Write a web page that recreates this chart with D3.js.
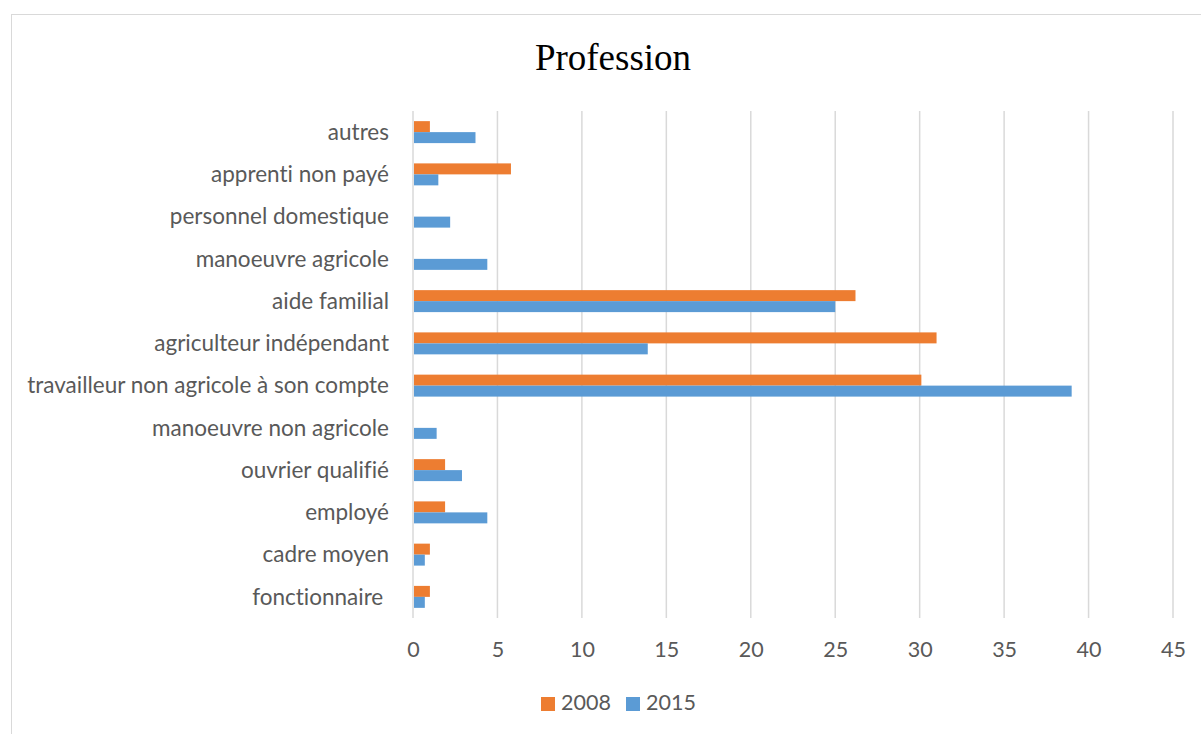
<!DOCTYPE html>
<html>
<head>
<meta charset="utf-8">
<script src="https://cdn.jsdelivr.net/npm/d3@7"></script>
<style>
  html, body { margin: 0; padding: 0; background: #fff; }
  svg { display: block; }
  svg text { font-variant-ligatures: none; font-feature-settings: "liga" 0, "clig" 0; }
</style>
</head>
<body>
<script>
// Profession breakdown, 2008 vs 2015 (percent)
const categories = [
  "autres",
  "apprenti non payé",
  "personnel domestique",
  "manoeuvre agricole",
  "aide familial",
  "agriculteur indépendant",
  "travailleur non agricole à son compte",
  "manoeuvre non agricole",
  "ouvrier qualifié",
  "employé",
  "cadre moyen",
  "fonctionnaire "
];
const values2008 = [1.0, 5.8, 0, 0, 26.2, 31.0, 30.1, 0, 1.9, 1.9, 1.0, 1.0];
const values2015 = [3.7, 1.5, 2.2, 4.4, 25.0, 13.9, 39.0, 1.4, 2.9, 4.4, 0.7, 0.7];
const seriesNames = ["2008", "2015"];
const seriesColors = ["#ed7d31", "#5b9bd5"];
const xTicks = [0, 5, 10, 15, 20, 25, 30, 35, 40, 45];

const W = 1201, H = 734;
const plot = { left: 413, right: 1173, top: 111, bottom: 618 };
const textColor = "#595959";
const sansFont = "Lato, 'Open Sans', sans-serif";
const labelSize = 22.5;

const svg = d3.select("body").append("svg")
  .attr("width", W).attr("height", H);

// chart frame
svg.append("rect")
  .attr("x", 11.5).attr("y", 14.5)
  .attr("width", 1220).attr("height", 760)
  .attr("fill", "none").attr("stroke", "#d9d9d9").attr("stroke-width", 1);

// title
svg.append("text")
  .attr("x", 613).attr("y", 70)
  .attr("text-anchor", "middle")
  .attr("font-family", "'Liberation Serif', 'Times New Roman', serif")
  .attr("font-size", 37)
  .attr("fill", "#000")
  .text("Profession");

const x = d3.scaleLinear().domain([0, 45]).range([plot.left, plot.right]);
const y = d3.scaleBand().domain(categories).range([plot.top, plot.bottom]).paddingInner(0.48).paddingOuter(0.24);
const ySub = d3.scaleBand().domain(seriesNames).range([0, y.bandwidth()]);

// vertical gridlines
svg.append("g")
  .selectAll("line")
  .data(xTicks)
  .join("line")
  .attr("x1", d => x(d)).attr("x2", d => x(d))
  .attr("y1", plot.top).attr("y2", plot.bottom)
  .attr("stroke", "#d9d9d9").attr("stroke-width", 1.5);

// x axis tick labels
const xAxis = d3.axisBottom(x).tickValues(xTicks).tickSize(0).tickPadding(0);
const gx = svg.append("g")
  .attr("transform", `translate(0,${plot.bottom + 39})`)
  .call(xAxis);
gx.select(".domain").remove();
gx.selectAll("text")
  .attr("dy", 0)
  .attr("font-family", sansFont).attr("font-size", 21.5)
  .attr("fill", textColor);

// category labels
const yAxis = d3.axisLeft(y).tickSize(0).tickPadding(24);
const gy = svg.append("g")
  .attr("transform", `translate(${plot.left},0)`)
  .call(yAxis);
gy.select(".domain").remove();
gy.selectAll("text")
  .attr("dy", "0.34em")
  .attr("font-family", sansFont).attr("font-size", labelSize)
  .attr("fill", textColor)
  .style("white-space", "pre");

// bars
const rows = categories.map((c, i) => ({ cat: c, vals: [values2008[i], values2015[i]] }));
const groups = svg.append("g").selectAll("g")
  .data(rows)
  .join("g")
  .attr("transform", d => `translate(0,${y(d.cat)})`);

groups.selectAll("rect")
  .data(d => d.vals.map((v, k) => ({ v, k })))
  .join("rect")
  .attr("x", x(0) + 1)
  .attr("y", d => ySub(seriesNames[d.k]))
  .attr("width", d => Math.max(0, x(d.v) - x(0) - 1))
  .attr("height", ySub.bandwidth())
  .attr("fill", d => seriesColors[d.k]);

// legend
const legendItems = [
  { name: seriesNames[0], color: seriesColors[0], x: 541 },
  { name: seriesNames[1], color: seriesColors[1], x: 626 }
];
const lg = svg.append("g").selectAll("g")
  .data(legendItems)
  .join("g")
  .attr("transform", d => `translate(${d.x},697)`);
lg.append("rect")
  .attr("width", 14).attr("height", 14)
  .attr("fill", d => d.color);
lg.append("text")
  .attr("x", 20).attr("y", 13)
  .attr("font-family", sansFont).attr("font-size", 21.5)
  .attr("fill", textColor)
  .text(d => d.name);
</script>
</body>
</html>
